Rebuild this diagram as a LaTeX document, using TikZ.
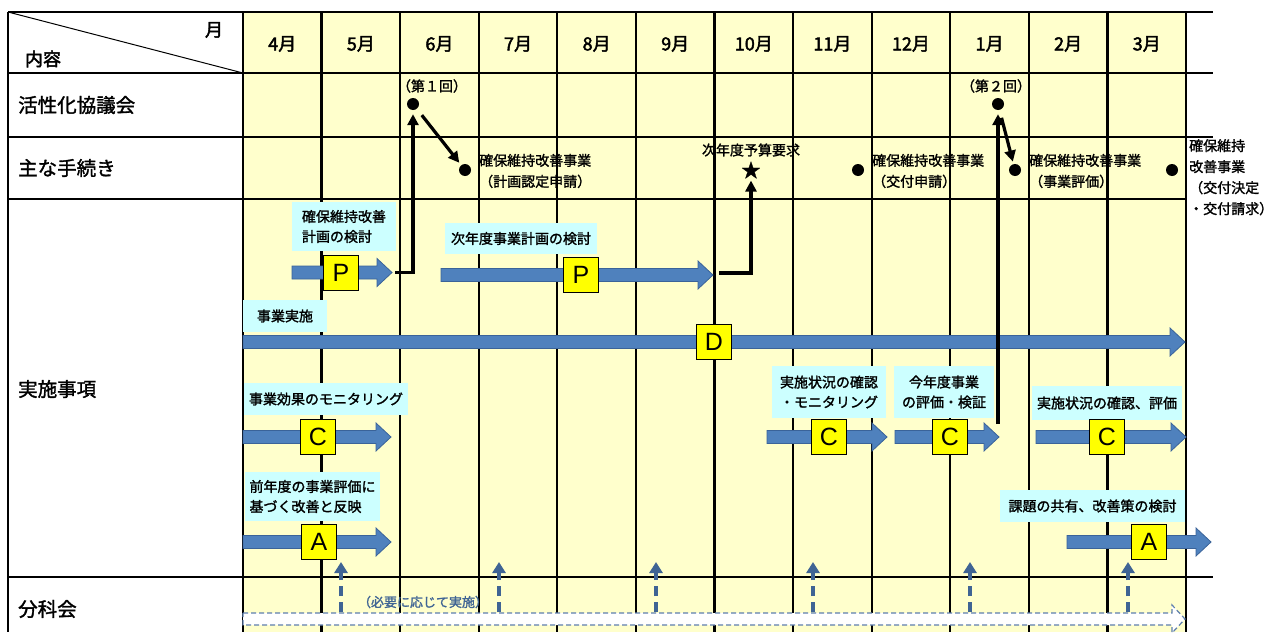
\documentclass[tikz,border=0pt]{standalone}
\usepackage{fontspec}
\setmainfont{Noto Sans CJK JP}[FakeBold=1.6]
\newfontfamily\latinfont{Liberation Sans}
\usetikzlibrary{arrows.meta}
\definecolor{gridyellow}{HTML}{FFFFCC}
\definecolor{lblcyan}{HTML}{CCFFFF}
\definecolor{barfill}{HTML}{4F81BD}
\definecolor{baredge}{HTML}{3A6399}
\definecolor{dashblue}{HTML}{3F6494}
\definecolor{dashedge}{HTML}{5F7FAD}
\definecolor{boxyellow}{HTML}{FFFF00}
\newcommand\fsz[2]{\fontsize{#1}{#2}\selectfont}
\newcommand\blockarrow[3]{\filldraw[barrow] (#1,#3-6.5) -- (#2-15,#3-6.5) -- (#2-15,#3-14) -- (#2,#3) -- (#2-15,#3+14) -- (#2-15,#3+6.5) -- (#1,#3+6.5) -- cycle;}
\begin{document}
\begin{tikzpicture}[x=1pt,y=-1pt,
  grid/.style={line width=2.2pt},
  rowlbl/.style={anchor=west, inner sep=0, font=\fsz{19.5}{22}},
  month/.style={inner sep=0, font=\addfontfeatures{FakeBold=2.4}\fsz{18}{20}},
  small/.style={inner sep=0, font=\fsz{14}{21}},
  lbl/.style={fill=lblcyan, inner sep=0, font=\fsz{14}{20}, align=center},
  pdca/.style={draw=black, line width=1pt, fill=boxyellow, minimum width=35, minimum height=35, inner sep=0, font=\latinfont\fsz{25}{25}},
  dot/.style={circle, fill=black, inner sep=0, minimum size=12},
  conn/.style={line width=3.2pt, -{Triangle[length=11pt,width=11pt]}},
  dashup/.style={line width=3.2pt, dashblue, dash pattern=on 10pt off 6pt, -{Triangle[length=11pt,width=13pt]}},
  barrow/.style={fill=barfill, draw=baredge, line width=0.8pt}
]
\useasboundingbox (0,0) rectangle (1280,632);
\fill[white] (0,0) rectangle (1280,632);
\fill[gridyellow] (243,12) rectangle (1186,632);
% grid
\draw[grid] (8,12) -- (1213,12);
\draw[grid] (8,73) -- (1213,73);
\draw[grid] (8,137) -- (1213,137);
\draw[grid] (8,199) -- (1186,199);
\draw[grid] (8,577) -- (1213,577);
\draw[grid] (8,12) -- (8,632);
\foreach \i in {0,...,12} \draw[grid] ({243+\i*78.5833},12) -- ({243+\i*78.5833},632);
\draw[line width=1pt] (8,12) -- (243,73);
% header
\node[month] (hm) at (214,30) {月};
\node[month] (hn) at (43,59) {内容};
\foreach \m [count=\i from 0] in {4,5,6,7,8,9,10,11,12,1,2,3}
  \node[month] (m\i) at ({282.3+\i*78.5833},44) {{\m}月};
% row labels
\node[rowlbl] (r1) at (18,105) {活性化協議会};
\node[rowlbl] (r2) at (18,168) {主な手続き};
\node[rowlbl] (r3) at (18,389) {実施事項};
\node[rowlbl] (r4) at (18,609) {分科会};
% council row
\node[small] (kai1) at (432,86) {（第１回）};
\node[small] (kai2) at (996,86) {（第２回）};
\node[dot] (k1) at (413,104) {};
\node[dot] (k2) at (998,104) {};
% procedures row
\node[dot] (d1) at (465,170) {};
\node[dot] (d2) at (858,170) {};
\node[dot] (d3) at (1015,170) {};
\node[dot] (d4) at (1172,170) {};
\node[small, anchor=west, align=left] (t1) at (479,171) {確保維持改善事業\\（計画認定申請）};
\node[small, anchor=west, align=left] (t2) at (872,171) {確保維持改善事業\\（交付申請）};
\node[small, anchor=west, align=left] (t3) at (1029,171) {確保維持改善事業\\（事業評価）};
\node[small, anchor=north west, align=left] (t4) at (1189,139) {確保維持\\改善事業\\（交付決定\\・交付請求）};
\node[small] (yk) at (751,150) {次年度予算要求};
\node[inner sep=0, font=\fsz{19}{19}] (star) at (751,170) {★};
% blue arrows
\blockarrow{292}{392}{272.5}
\blockarrow{441}{713}{275}
\blockarrow{243}{1185}{342}
\blockarrow{243}{391}{437}
\blockarrow{243}{391}{542}
\blockarrow{767}{887}{437}
\blockarrow{895}{999}{437}
\blockarrow{1036}{1186}{437}
\blockarrow{1067}{1211}{542}
% labels
\node[lbl, align=left, minimum width=104, minimum height=49] (L1) at (344,226.5) {確保維持改善\\計画の検討};
\node[lbl, minimum width=152, minimum height=31] (L2) at (521,238.5) {次年度事業計画の検討};
\node[lbl, minimum width=84, minimum height=32] (L3) at (285,316) {事業実施};
\node[lbl, minimum width=164, minimum height=32] (L4) at (326,399) {事業効果のモニタリング};
\node[lbl, align=left, minimum width=135, minimum height=49] (L5) at (312.5,496.5) {前年度の事業評価に\\基づく改善と反映};
\node[lbl, minimum width=114, minimum height=52] (L6) at (829,392) {実施状況の確認\\・モニタリング};
\node[lbl, minimum width=100, minimum height=52] (L7) at (944,392) {今年度事業\\の評価・検証};
\node[lbl, minimum width=150, minimum height=34] (L8) at (1107,403) {実施状況の確認、評価};
\node[lbl, minimum width=185, minimum height=32] (L9) at (1092.5,506) {課題の共有、改善策の検討};
% PDCA boxes
\node[pdca] (P1) at (341,272.5) {P};
\node[pdca] (P2) at (581,275) {P};
\node[pdca] (D1) at (714,342) {D};
\node[pdca] (C1) at (318,437) {C};
\node[pdca] (C2) at (829,437) {C};
\node[pdca] (C3) at (950,437) {C};
\node[pdca] (C4) at (1107,437) {C};
\node[pdca] (A1) at (319,542) {A};
\node[pdca] (A2) at (1149,542) {A};
% black connectors
\coordinate (p1tip) at (395,272.5);
\coordinate (p2tip) at (719,273);
\coordinate (c3top) at (998,424);
\draw[conn, shorten <=8pt, shorten >=3pt] (k1) -- (d1);
\draw[conn, shorten <=8pt, shorten >=2.5pt] (k2) -- (d3);
\draw[conn, shorten >=4pt] (p1tip) -| (k1);
\draw[conn, shorten >=2pt] (p2tip) -| (star);
\draw[conn, shorten >=4pt] (c3top) -- (k2);
% subcommittee row
\filldraw[fill=white, draw=dashedge, line width=1.2pt, dash pattern=on 5pt off 3pt]
  (243,613) -- (1172,613) -- (1172,605) -- (1185,619) -- (1172,633) -- (1172,625) -- (243,625) -- cycle;
\foreach \x in {341,499,656,813,970,1128}
  \draw[dashup] (\x,612) -- (\x,562);
\node[inner sep=0, text=dashblue, font=\fsz{13}{16}] (need) at (423,602) {（必要に応じて実施）};
\end{tikzpicture}
\end{document}
